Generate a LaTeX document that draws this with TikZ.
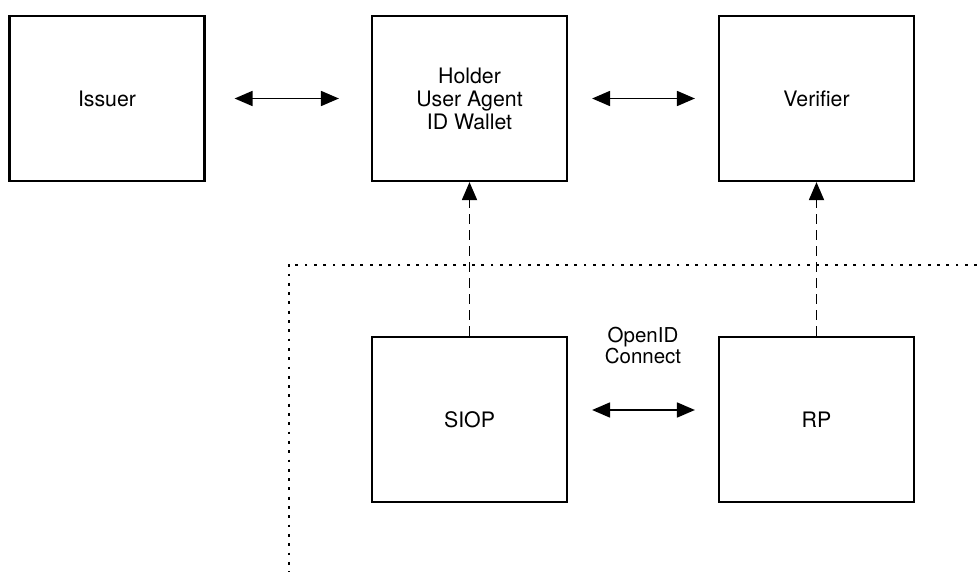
\documentclass[tikz,border=0pt]{standalone}
\usepackage{fontspec}
\setmainfont{TeX Gyre Heros}
\usetikzlibrary{arrows.meta}
\begin{document}
\begin{tikzpicture}[x=1pt,y=-1pt,
  box/.style={draw, line width=2.2pt, minimum width=195pt, minimum height=165pt,
    align=center, inner sep=0pt, font=\fontsize{21.3}{23}\selectfont},
  lbl/.style={align=center, inner sep=0pt, font=\fontsize{20.5}{21.5}\selectfont},
  biarrow/.style={line width=1.8pt, {Triangle[length=18pt,width=15pt]}-{Triangle[length=18pt,width=15pt]}},
  reqarrow/.style={line width=1.8pt, dash pattern=on 10pt off 6pt, -{Triangle[length=18pt,width=15pt]}},
  boundary/.style={line width=2pt, dash pattern=on 2.8pt off 6.5pt}]
  % canvas
  \useasboundingbox (0,0) rectangle (977,572);

  % parties of the credential exchange
  \node[box] (issuer)   at (107,98.5)   {Issuer};
  \node[box] (holder)   at (469.5,98.5) {Holder\\User Agent\\ID Wallet};
  \node[box] (verifier) at (816.5,98.5) {Verifier};

  % OpenID Connect layer
  \node[box] (siop) at (469.5,419.5) {SIOP};
  \node[box] (rp)   at (816.5,419.5) {RP};

  % exchanges between the parties
  \draw[biarrow, shorten <=29pt, shorten >=32pt] (issuer.east) -- (holder.west);
  \draw[biarrow, shorten <=24pt, shorten >=23pt] (holder.east) -- (verifier.west);
  \draw[biarrow, shorten <=24pt, shorten >=23pt]
    ([yshift=9.5pt]siop.east) -- ([yshift=9.5pt]rp.west)
    node[lbl, midway, above=45pt] {OpenID\\Connect};

  % SIOP and RP act for the wallet and the verifier
  \draw[reqarrow] (siop.north) -- (holder.south);
  \draw[reqarrow] (rp.north) -- (verifier.south);

  % boundary of the OpenID Connect domain
  \coordinate (edgeR)  at (977,264.5);
  \coordinate (corner) at (288.5,264.5);
  \coordinate (edgeB)  at (288.5,572);
  \draw[boundary] (edgeR) -- (corner) -- (edgeB);
\end{tikzpicture}
\end{document}
